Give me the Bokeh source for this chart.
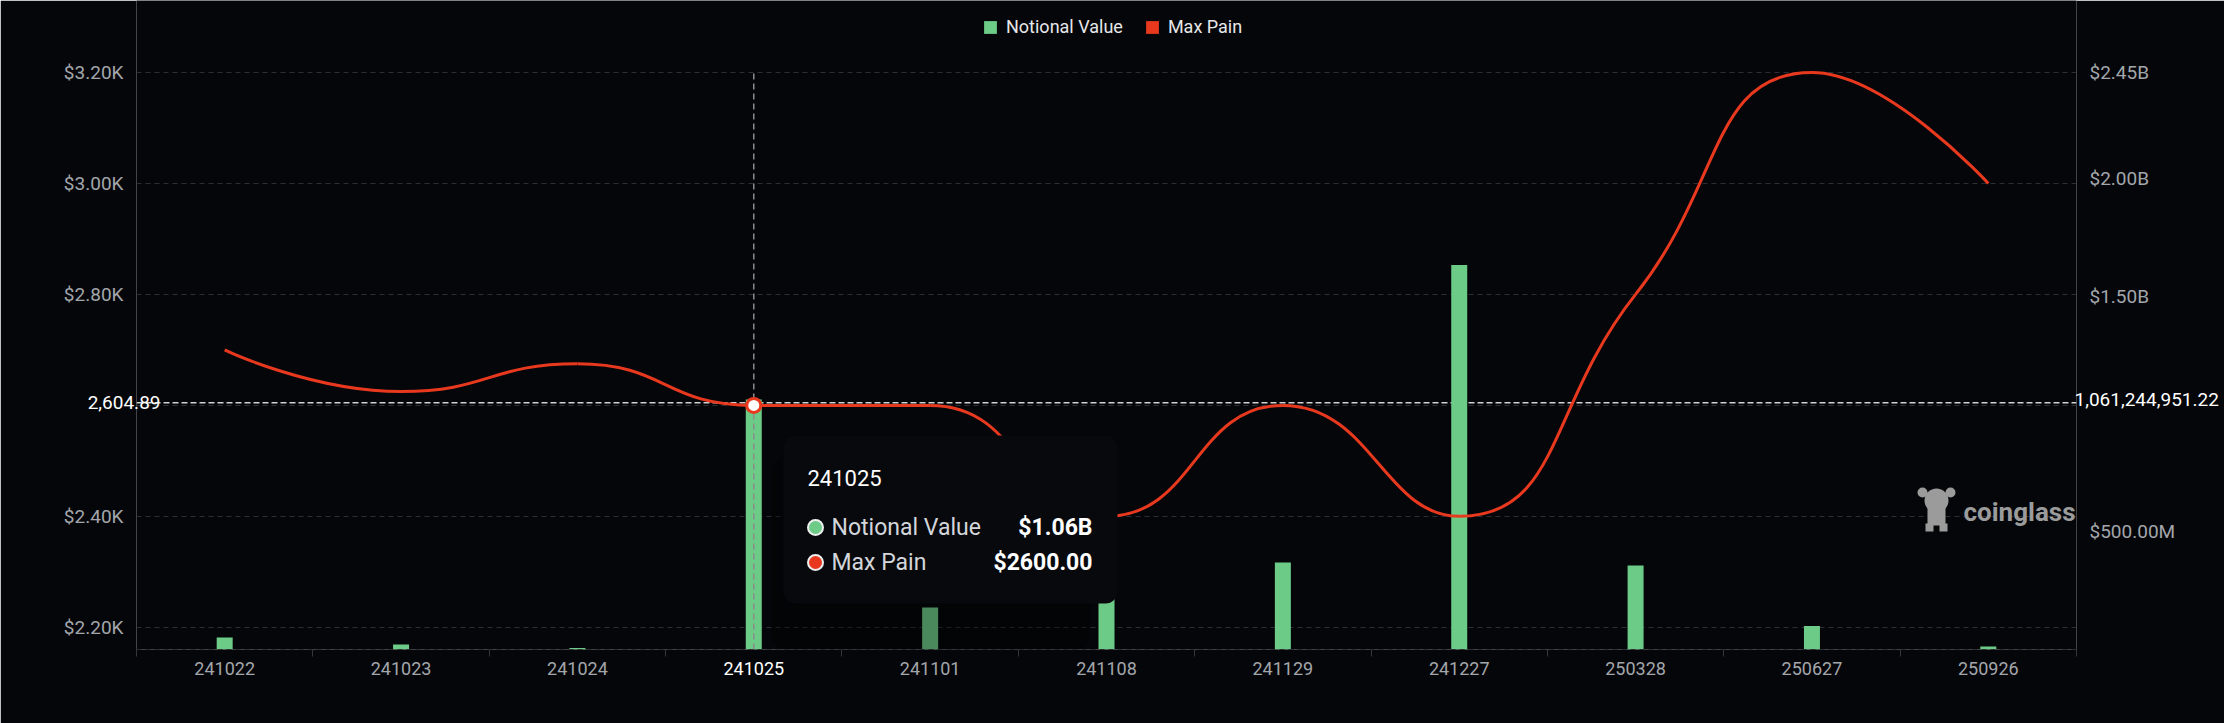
import math
from bokeh.plotting import figure
from bokeh.models import (FactorRange, Range1d, LinearAxis, FixedTicker,
                          CustomJSTickFormatter, Span, Label, BoxAnnotation,
                          Legend, LegendItem, ColumnDataSource)
from bokeh.embed import file_html
from bokeh.resources import INLINE

# ---------------- data ----------------
categories = ["241022", "241023", "241024", "241025", "241101", "241108",
              "241129", "241227", "250328", "250627", "250926"]
notional_value = [0.051e9, 0.021e9, 0.006e9, 1.0612e9, 0.178e9, 0.25e9,
                  0.369e9, 1.633e9, 0.357e9, 0.100e9, 0.013e9]
max_pain = [2700, 2625, 2675, 2600, 2600, 2400, 2600, 2400, 2800, 3200, 3000]

left_ticks = [2200, 2400, 2600, 2800, 3000, 3200]
right_ticks = [0.5e9, 1.0e9, 1.5e9, 2.0e9, 2.45e9]
left_min, left_max = 2160, 3200
right_min, right_max = 0, 2.45e9

hover_index = 3
cross_left_value = 2604.89
cross_right_value = 1061244951.22
cross_left_text = "2,604.89"
cross_right_text = "1,061,244,951.22"

# ---------------- style / layout ----------------
BG = "#05060a"
GREEN = "#6ccb87"
RED = "#e8391f"
FONT = "Roboto"
GRID = "#2c2e34"
AXIS_TXT = "#a3a6ab"

W, H = 2224, 723
FX0, FY0, FW, FH = 136, 72, 1940, 577   # value area in px (frame extends up to 0)
BOTTOM = FY0 + FH
N = len(categories)
ext = BOTTOM / FH


def sx(px):
    return (px - FX0) / FW * N


def ly(py):
    return left_min + (BOTTOM - py) / FH * (left_max - left_min)


p = figure(x_range=FactorRange(factors=categories, range_padding=0),
           y_range=Range1d(left_min, left_min + (left_max - left_min) * ext),
           frame_width=FW, frame_height=BOTTOM,
           min_border_left=FX0, min_border_right=W - FX0 - FW,
           min_border_top=0, min_border_bottom=H - BOTTOM,
           output_backend="svg", toolbar_location=None,
           background_fill_color=BG, border_fill_color=BG)
p.outline_line_color = None
p.outline_line_alpha = 0
p.outline_line_width = 0

p.extra_y_ranges = {"right": Range1d(right_min, right_min + (right_max - right_min) * ext)}

# grids
p.xgrid.visible = False
p.ygrid.ticker = FixedTicker(ticks=left_ticks, minor_ticks=[])
p.ygrid.grid_line_color = GRID
p.ygrid.grid_line_dash = "5 4"
p.ygrid.grid_line_width = 1


def style_axis(ax, color=AXIS_TXT, size="19px", standoff=13):
    ax.axis_line_color = None
    ax.axis_line_alpha = 0
    ax.major_tick_line_color = None
    ax.minor_tick_line_color = None
    ax.major_tick_out = 0
    ax.major_tick_in = 0
    ax.major_label_standoff = standoff
    ax.major_label_text_font = FONT
    ax.major_label_text_font_size = size
    ax.major_label_text_color = color


# left axis (tick under the crosshair badge is covered by it)
ya = p.yaxis[0]
ya.ticker = FixedTicker(ticks=[t for t in left_ticks if abs(t - cross_left_value) > 20],
                        minor_ticks=[])
ya.formatter = CustomJSTickFormatter(code="return '$' + (tick/1000).toFixed(2) + 'K';")
style_axis(ya)

cross_l = LinearAxis(ticker=FixedTicker(ticks=[cross_left_value], minor_ticks=[]),
                     major_label_overrides={cross_left_value: cross_left_text})
style_axis(cross_l, color="#ffffff", standoff=-100)
p.left = [ya, cross_l]

# right axis
ra = LinearAxis(y_range_name="right",
                ticker=FixedTicker(ticks=[t for t in right_ticks
                                          if abs(t - cross_right_value) > 0.1e9],
                                   minor_ticks=[]),
                formatter=CustomJSTickFormatter(code=(
                    "return tick >= 1e9 ? '$' + (tick/1e9).toFixed(2) + 'B'"
                    " : '$' + (tick/1e6).toFixed(2) + 'M';")))
style_axis(ra)
cross_r = LinearAxis(y_range_name="right",
                     ticker=FixedTicker(ticks=[cross_right_value], minor_ticks=[]),
                     major_label_overrides={cross_right_value: cross_right_text})
style_axis(cross_r, color="#ffffff", standoff=-104)
p.right = [ra, cross_r]

# bottom: category-boundary ticks, category labels, highlighted label
cat_axis = p.xaxis[0]
style_axis(cat_axis, size="18px", standoff=5)
cat_axis.formatter = CustomJSTickFormatter(args=dict(hl=categories[hover_index]),
                                           code="return tick == hl ? '' : tick;")

tick_axis = LinearAxis(ticker=FixedTicker(ticks=list(range(N + 1)), minor_ticks=[]),
                       formatter=CustomJSTickFormatter(code="return '';"))
tick_axis.axis_line_color = GRID
tick_axis.axis_line_dash = "5 4"
tick_axis.major_tick_line_color = "#34363c"
tick_axis.major_tick_out = 7
tick_axis.major_tick_in = 0
tick_axis.minor_tick_line_color = None
tick_axis.major_label_standoff = 0

hl_axis = LinearAxis(ticker=FixedTicker(ticks=[hover_index + 0.5], minor_ticks=[]),
                     major_label_overrides={hover_index + 0.5: categories[hover_index]})
style_axis(hl_axis, color="#ffffff", size="18px", standoff=-16)
p.below = [tick_axis, cat_axis, hl_axis]

# ---------------- bars ----------------
bar_src = ColumnDataSource(dict(cat=categories, nv=notional_value))
bars = p.vbar(x="cat", top="nv", bottom=0, width=16 / (FW / N), source=bar_src,
              y_range_name="right", fill_color=GREEN, line_color=None)

# ---------------- smooth max-pain line (echarts smooth=0.5 bezier) ----------------
pts = [(FX0 + (i + 0.5) * FW / N,
        FY0 + (left_max - v) / (left_max - left_min) * FH) for i, v in enumerate(max_pain)]


def smooth_segments(pts, smooth=0.5):
    segs = []
    cp0 = pts[0]
    n = len(pts)
    for i in range(1, n):
        x, y = pts[i]
        px, py = pts[i - 1]
        if i == n - 1:
            cp1 = (x, y)
            ncp0 = None
        else:
            nx, ny = pts[i + 1]
            vx, vy = nx - px, ny - py
            lp = math.hypot(x - px, y - py)
            ln = math.hypot(nx - x, ny - y)
            r = ln / (ln + lp)
            ncx = x + vx * smooth * r
            ncy = y + vy * smooth * r
            ncx = max(min(ncx, max(nx, x)), min(nx, x))
            ncy = max(min(ncy, max(ny, y)), min(ny, y))
            vx, vy = ncx - x, ncy - y
            c1x = x - vx * lp / ln
            c1y = y - vy * lp / ln
            c1x = max(min(c1x, max(px, x)), min(px, x))
            c1y = max(min(c1y, max(py, y)), min(py, y))
            vx, vy = x - c1x, y - c1y
            ncx = x + vx * ln / lp
            ncy = y + vy * ln / lp
            cp1 = (c1x, c1y)
            ncp0 = (ncx, ncy)
        segs.append((pts[i - 1], cp0, cp1, pts[i]))
        cp0 = ncp0
    return segs


bz = dict(x0=[], y0=[], x1=[], y1=[], cx0=[], cy0=[], cx1=[], cy1=[])
for a, c0, c1, b in smooth_segments(pts):
    bz["x0"].append(sx(a[0])); bz["y0"].append(ly(a[1]))
    bz["cx0"].append(sx(c0[0])); bz["cy0"].append(ly(c0[1]))
    bz["cx1"].append(sx(c1[0])); bz["cy1"].append(ly(c1[1]))
    bz["x1"].append(sx(b[0])); bz["y1"].append(ly(b[1]))
p.bezier(x0="x0", y0="y0", x1="x1", y1="y1", cx0="cx0", cy0="cy0",
         cx1="cx1", cy1="cy1", source=ColumnDataSource(bz),
         line_color=RED, line_width=3)

# zero-height renderer giving Max Pain its square legend swatch
mp_swatch = p.vbar(x=[categories[0]], top=[0], bottom=[0], width=0.01,
                   y_range_name="right", fill_color=RED, line_color=None)

# ---------------- crosshair ----------------
p.segment(x0=[hover_index + 0.5], y0=[left_min], x1=[hover_index + 0.5], y1=[left_max],
          line_color="#8c8c8c", line_dash="6 4", line_width=1.5)
p.add_layout(Span(location=cross_left_value, dimension="width", level="underlay",
                  line_color="#d2d2d2", line_dash="6 3", line_width=1.5))
hp = p.scatter(x=[categories[hover_index]], y=[max_pain[hover_index]], size=14,
               fill_color="#ffffff", line_color=RED, line_width=3)
hp.level = "overlay"

# ---------------- legend ----------------
legend = Legend(items=[LegendItem(label="Notional Value", renderers=[bars]),
                       LegendItem(label="Max Pain", renderers=[mp_swatch])],
                orientation="horizontal", location=(846, BOTTOM - 37),
                glyph_width=16, glyph_height=16, label_height=16,
                label_standoff=8, spacing=21, padding=0, margin=0,
                label_text_font=FONT, label_text_font_size="18px",
                label_text_color="#e6e7e9", background_fill_alpha=0,
                border_line_color=None)
p.add_layout(legend, "center")

# ---------------- watermark ----------------
p.add_layout(Label(x=sx(1963), y=ly(511), text="coinglass", text_font=FONT,
                   text_font_size="26px", text_font_style="bold",
                   text_color="#9b9b9b", text_baseline="middle"))
p.scatter(x=[sx(1936), sx(1922), sx(1950), sx(1936), sx(1929), sx(1943)],
          y=[ly(500), ly(492), ly(492), ly(516), ly(527), ly(527)],
          size=[24, 10, 10, 18, 8, 8],
          marker=["circle", "circle", "circle", "square", "square", "square"],
          fill_color="#9b9b9b", line_color=None)

# ---------------- tooltip ----------------
tl, tr, tt, tb = 783, 1117, 435, 603
p.add_layout(BoxAnnotation(left=sx(tl - 12), right=sx(1090), top=ly(tt + 20),
                           bottom=ly(tb + 48), fill_color="#000000", fill_alpha=0.32,
                           line_color=None, border_radius=18))
p.add_layout(BoxAnnotation(left=sx(tl), right=sx(tr), top=ly(tt), bottom=ly(tb),
                           fill_color="#08090d", fill_alpha=1, line_color=None,
                           border_radius=12))
p.add_layout(Label(x=sx(807), y=ly(477), text=categories[hover_index],
                   text_baseline="middle", text_font=FONT, text_font_size="22px",
                   text_color="#ffffff"))
nv_txt = "$%.2fB" % (notional_value[hover_index] / 1e9)
mp_txt = "$%.2f" % max_pain[hover_index]
for name, val, yy in [("Notional Value", nv_txt, 527), ("Max Pain", mp_txt, 562)]:
    p.add_layout(Label(x=sx(831), y=ly(yy), text=name, text_baseline="middle",
                       text_font=FONT, text_font_size="23px", text_color="#d3d6db"))
    p.add_layout(Label(x=sx(1092), y=ly(yy), text=val, text_baseline="middle",
                       text_align="right", text_font=FONT, text_font_size="23px",
                       text_font_style="bold", text_color="#ffffff"))
dots = p.scatter(x=[sx(815), sx(815)], y=[ly(527), ly(562)], size=15,
                 fill_color=[GREEN, RED], line_color="#eeeeee", line_width=2)
dots.level = "overlay"

open("out.html", "w").write(file_html(p, INLINE))
